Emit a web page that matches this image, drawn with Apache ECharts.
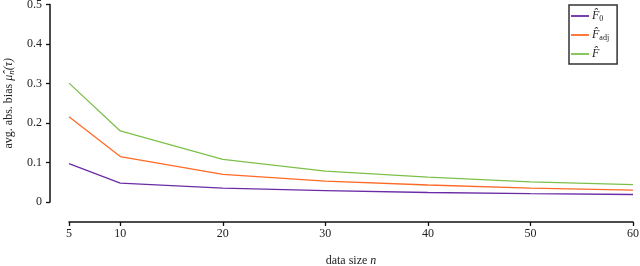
<!DOCTYPE html>
<html><head><meta charset="utf-8">
<script src="https://cdn.jsdelivr.net/npm/echarts@6/dist/echarts.min.js"></script>
<style>html,body{margin:0;padding:0;background:#fff}#c{width:640px;height:266px}</style>
</head><body><div id="c"></div>
<script>
const sizes = [5, 10, 20, 30, 40, 50, 60];
const xTicks = [5, 10, 20, 30, 40, 50, 60];
const F0 = [0.097, 0.048, 0.035, 0.029, 0.024, 0.021, 0.019];
const Fadj = [0.216, 0.115, 0.070, 0.053, 0.043, 0.035, 0.030];
const Fhat = [0.301, 0.180, 0.108, 0.078, 0.063, 0.051, 0.044];
const names = ['F0', 'Fadj', 'F'];
const colors = ['#6a2ca6', '#ff6a26', '#7cc04a'];
const serif = '"Liberation Serif", "DejaVu Serif", serif';

const chart = echarts.init(document.getElementById('c'), null, {renderer: 'canvas'});
function mk(name, vals, color) {
  return {name, type: 'line', data: sizes.map((s, i) => [s, vals[i]]), showSymbol: false,
    symbol: 'none', lineStyle: {color, width: 1.3}, itemStyle: {color}, animation: false};
}
const legendRich = {
  i: {fontFamily: serif, fontStyle: 'italic', fontSize: 12, color: '#222'},
  s: {fontFamily: serif, fontSize: 8, color: '#222', verticalAlign: 'bottom', padding: [6, 0, 0, 0]}
};
chart.setOption({
  animation: false,
  textStyle: {fontFamily: serif},
  grid: {left: 69, right: 7, top: 4.5, bottom: 64, containLabel: false, outerBoundsMode: 'none'},
  legend: {
    orient: 'vertical', left: 569, top: 5, width: 46,
    borderColor: '#333', borderWidth: 1.5, padding: [5, 8, 4, 2],
    itemWidth: 18, itemHeight: 12, itemGap: 6,
    icon: 'path://M0,5L20,5L20,7L0,7Z',
    data: names,
    formatter: n => n === 'F0' ? '{i|F̂}{s|0}' : n === 'Fadj' ? '{i|F̂}{s|adj}' : '{i|F̂}',
    textStyle: {rich: legendRich, padding: [0, 0, 0, -2]}
  },
  xAxis: {
    type: 'value', min: 5, max: 60, offset: 20,
    name: 'data size {i|n}', nameLocation: 'middle', nameGap: 33,
    nameTextStyle: {fontFamily: serif, fontSize: 12, color: '#222',
      rich: {i: {fontFamily: serif, fontStyle: 'italic', fontSize: 12, color: '#222'}}},
    splitLine: {show: false},
    axisLine: {show: true, onZero: false, lineStyle: {color: '#111', width: 1.5}},
    axisTick: {show: true, length: 4, lineStyle: {color: '#111', width: 1.3}, customValues: xTicks},
    axisLabel: {fontFamily: serif, fontSize: 12, color: '#222', margin: 6, customValues: xTicks}
  },
  yAxis: {
    type: 'value', min: 0, max: 0.5, interval: 0.1, offset: 19,
    name: 'avg. abs. bias {i|μ̂}{s|n}{i|(τ)}', nameLocation: 'middle', nameGap: 33, nameRotate: 90,
    nameTextStyle: {fontFamily: serif, fontSize: 12, color: '#222',
      rich: {i: {fontFamily: serif, fontStyle: 'italic', fontSize: 12, color: '#222'},
             s: {fontFamily: serif, fontStyle: 'italic', fontSize: 9, color: '#222', padding: [5, 0, 0, 0]}}},
    splitLine: {show: false},
    axisLine: {show: true, onZero: false, lineStyle: {color: '#111', width: 1.5}},
    axisTick: {show: true, length: 4, lineStyle: {color: '#111', width: 1.3}},
    axisLabel: {fontFamily: serif, fontSize: 12, color: '#222', margin: 8}
  },
  series: [mk('F0', F0, colors[0]), mk('Fadj', Fadj, colors[1]), mk('F', Fhat, colors[2])]
});
</script></body></html>
